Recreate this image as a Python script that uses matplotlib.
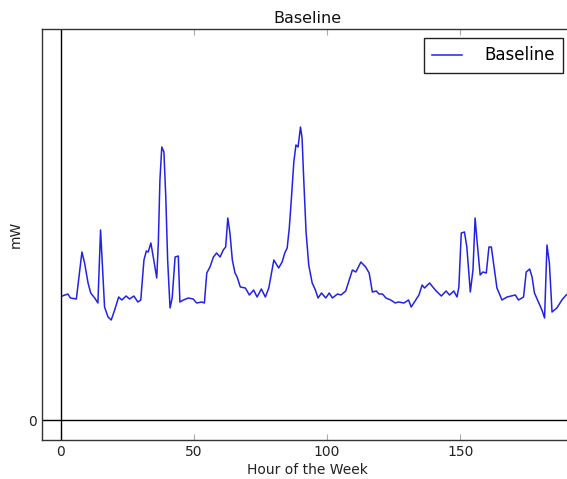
#!/usr/bin/env python3
# -*- coding: utf-8 -*-

import numpy as np
import matplotlib
matplotlib.use("Agg")
import matplotlib.pyplot as plt


# =========================
# Data
# =========================
HOURS = [
    0.5, 2.6, 3.6, 5.8, 7.9, 8.9, 10.2, 11.2, 12.7, 13.9, 14.9, 15.5, 16.4, 17.7,
    18.9, 20.2, 21.7, 22.9, 24.5, 25.8, 27.4, 28.9, 30.0, 31.2, 32.1, 32.8, 33.8,
    34.7, 36.0, 36.6, 37.2, 37.9, 38.7, 39.4, 40.1, 41.0, 41.8, 42.9, 44.1, 44.7,
    46.0, 47.9, 49.7, 51.0, 52.9, 53.9, 54.8, 56.0, 57.3, 58.5, 59.8, 61.0, 61.9,
    62.7, 63.5, 64.4, 65.4, 66.2, 67.4, 69.3, 70.8, 72.4, 73.7, 75.3, 76.8, 78.1,
    80.0, 81.8, 83.1, 84.1, 85.0, 85.8, 86.6, 87.5, 88.3, 89.1, 90.0, 90.6, 91.2,
    92.1, 93.1, 94.4, 95.6, 96.6, 97.9, 99.5, 100.8, 102.0, 103.9, 105.2, 107.0,
    108.3, 109.5, 110.8, 112.7, 114.5, 115.8, 117.0, 118.5, 119.5, 120.8, 122.1,
    123.9, 125.6, 126.8, 128.9, 130.6, 131.6, 132.8, 134.5, 135.7, 136.6, 138.5,
    139.7, 141.0, 142.9, 144.7, 146.0, 147.6, 148.8, 149.5, 150.4, 151.6, 152.5,
    153.8, 154.8, 155.6, 156.3, 157.5, 158.5, 159.8, 160.8, 161.7, 162.9, 163.8,
    165.7, 167.6, 170.7, 171.9, 173.8, 174.8, 176.1, 177.0, 177.9, 179.4, 180.7,
    181.7, 182.6, 183.5, 184.5, 186.3, 188.2, 189.8, 192.0,
]

BASELINE_MW = [
    124, 126, 122, 121, 168, 157, 137, 127, 122, 117, 190, 160, 113, 103,
    100, 110, 123, 120, 124, 121, 124, 118, 120, 160, 169, 168, 177,
    163, 142, 177, 240, 273, 268, 223, 160, 112, 122, 163, 164, 118,
    120, 122, 121, 117, 118, 117, 147, 153, 163, 167, 163, 170, 173,
    202, 187, 160, 147, 143, 133, 132, 125, 130, 123, 131, 123, 132,
    160, 152, 158, 167, 172, 192, 222, 258, 275, 273, 293, 282, 242,
    188, 155, 137, 130, 122, 127, 122, 127, 122, 126, 125, 129,
    140, 150, 148, 158, 153, 147, 128, 129, 126, 126, 122,
    120, 117, 118, 117, 120, 113, 118, 125, 135, 132, 137,
    133, 129, 124, 129, 125, 129, 123, 133, 187, 188, 173,
    128, 150, 202, 180, 145, 148, 147, 173, 173, 150, 132,
    120, 123, 125, 120, 123, 148, 151, 143, 127, 118, 110,
    102, 175, 157, 108, 112, 120, 125, 128,
]

XLIM = (-7.1, 192.0)
YLIM = (-20, 391)


def main():
    hours = np.array(HOURS)
    mw = np.array(BASELINE_MW)

    fig = plt.figure(figsize=(5.67, 4.79), dpi=100)
    # axes run a little past the right edge, as in the reference crop
    ax = fig.add_axes([42 / 567, 39 / 479, 530 / 567, 411 / 479])

    ax.plot(hours, mw, color="#2222e6", linewidth=1.1, label="Baseline")

    # zero lines
    ax.axhline(0, color="black", linewidth=1.0)
    ax.axvline(0, color="black", linewidth=1.0)

    ax.set_xlim(*XLIM)
    ax.set_ylim(*YLIM)
    ax.set_xticks([0, 50, 100, 150])
    ax.set_yticks([0])
    ax.tick_params(direction="in", top=True, right=True, length=4,
                   color="#aaaaaa", labelsize=10, labelcolor="#222222")

    for sp in ax.spines.values():
        sp.set_color("#333333")
        sp.set_linewidth(1.0)

    ax.set_title("Baseline", fontsize=11.5, color="#111111", pad=4)
    ax.set_xlabel("Hour of the Week", fontsize=10, color="#222222", labelpad=3)
    ax.set_ylabel("mW", fontsize=10, color="#222222", labelpad=4)

    leg = ax.legend(loc="upper right", bbox_to_anchor=(521 / 530, 0.978),
                    fontsize=12, fancybox=False, framealpha=1,
                    borderaxespad=0, borderpad=0.5,
                    handlelength=1.8, handletextpad=1.3)
    leg.get_frame().set_edgecolor("#222222")
    leg.get_frame().set_linewidth(1.0)

    fig.savefig("out.png", dpi=100)
    plt.close(fig)


if __name__ == "__main__":
    main()
